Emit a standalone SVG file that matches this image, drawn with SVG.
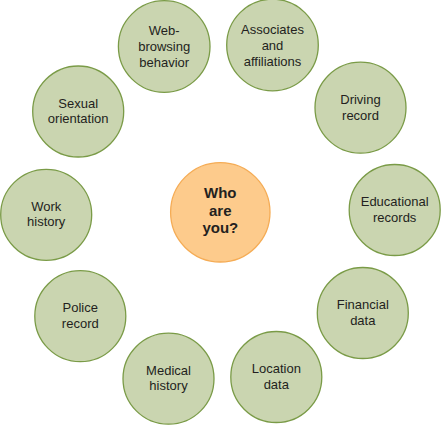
<svg xmlns="http://www.w3.org/2000/svg" width="441" height="425" viewBox="0 0 441 425">
<style>
.n circle{fill:#CAD5B0;stroke:#7A9B47;stroke-width:1.3}
.c circle{fill:#FDCB8C;stroke:#F5AC55;stroke-width:1.3}
text{font-family:"Liberation Sans",Arial,Helvetica,sans-serif;font-size:13px;fill:#231F20;text-anchor:middle}
.c text{font-size:15px;font-weight:bold}
</style>
<rect width="441" height="425" fill="#FFFFFF"/>
<g id="who" class="c"><circle cx="220.3" cy="212.3" r="49.7"/><text x="220.3" y="198">Who</text><text x="220.3" y="215.5">are</text><text x="220.3" y="233">you?</text></g>
<g id="web" class="n"><circle cx="164.2" cy="46.5" r="45.8"/><text x="164.2" y="35">Web-</text><text x="164.2" y="51">browsing</text><text x="164.2" y="67">behavior</text></g>
<g id="assoc" class="n"><circle cx="272.5" cy="45" r="45.8"/><text x="272.5" y="33.5">Associates</text><text x="272.5" y="49.5">and</text><text x="272.5" y="65.5">affiliations</text></g>
<g id="driving" class="n"><circle cx="360.5" cy="107.7" r="45.5"/><text x="360.5" y="104">Driving</text><text x="360.5" y="119.5">record</text></g>
<g id="edu" class="n"><circle cx="394.7" cy="210" r="45.5"/><text x="394.7" y="206">Educational</text><text x="394.7" y="221.5">records</text></g>
<g id="fin" class="n"><circle cx="362.8" cy="313" r="45.5"/><text x="362.8" y="309">Financial</text><text x="362.8" y="324.5">data</text></g>
<g id="loc" class="n"><circle cx="276.3" cy="377" r="45.5"/><text x="276.3" y="373">Location</text><text x="276.3" y="388.5">data</text></g>
<g id="med" class="n"><circle cx="168.5" cy="378.7" r="45.5"/><text x="168.5" y="374.7">Medical</text><text x="168.5" y="390.2">history</text></g>
<g id="police" class="n"><circle cx="80.3" cy="316.2" r="45.5"/><text x="80.3" y="312.2">Police</text><text x="80.3" y="327.7">record</text></g>
<g id="work" class="n"><circle cx="46.2" cy="214.8" r="45.5"/><text x="46.2" y="210.8">Work</text><text x="46.2" y="226.3">history</text></g>
<g id="sexual" class="n"><circle cx="78.2" cy="111.5" r="45.5"/><text x="78.2" y="107.5">Sexual</text><text x="78.2" y="123">orientation</text></g>
</svg>
